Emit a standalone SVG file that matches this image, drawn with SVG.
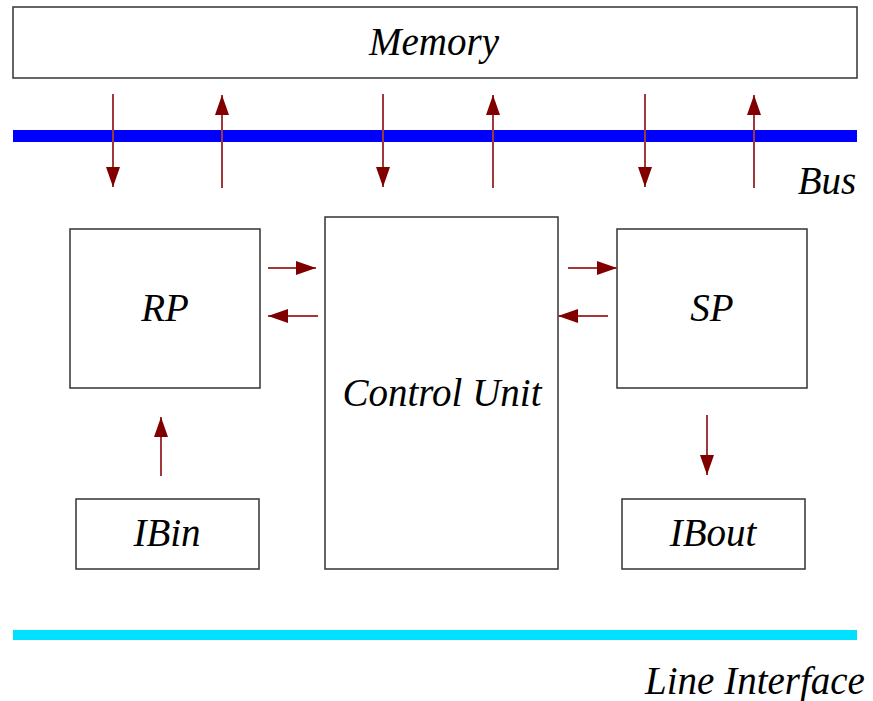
<svg xmlns="http://www.w3.org/2000/svg" width="873" height="701" viewBox="0 0 873 701">
<style>
.box{fill:#fff;stroke:#333;stroke-width:1.5}
.t{font-family:"Liberation Serif","Times New Roman",serif;font-style:italic;font-size:39px;fill:#000;text-anchor:middle}
.a{stroke:#a0383c;stroke-width:2;fill:none;marker-end:url(#ah)}
</style>
<defs>
<marker id="ah" markerUnits="userSpaceOnUse" markerWidth="22" markerHeight="16" refX="20" refY="7" orient="auto">
<path d="M0,0 L20,7 L0,14 Z" fill="#800000"/>
</marker>
</defs>
<rect width="873" height="701" fill="#fff"/>
<g id="memory"><rect class="box" x="13" y="7" width="844" height="71"/><text class="t" x="434" y="55">Memory</text></g>
<g id="bus"><rect x="13" y="130" width="844" height="12" fill="#0000ff"/><text class="t" x="827" y="194">Bus</text></g>
<g id="rp"><rect class="box" x="70" y="229" width="190" height="159"/><text class="t" x="165" y="321">RP</text></g>
<g id="cu"><rect class="box" x="325" y="217" width="233" height="352"/><text class="t" x="442" y="406">Control Unit</text></g>
<g id="sp"><rect class="box" x="617" y="229" width="190" height="159"/><text class="t" x="712" y="321">SP</text></g>
<g id="ibin"><rect class="box" x="76" y="499" width="183" height="70"/><text class="t" x="167" y="546">IBin</text></g>
<g id="ibout"><rect class="box" x="622" y="499" width="183" height="70"/><text class="t" x="713" y="546">IBout</text></g>
<g id="line"><rect x="13" y="630" width="844" height="10" fill="#00e0ff"/><text class="t" x="755" y="694">Line Interface</text></g>
<g id="connectors">
<line class="a" x1="113" y1="94" x2="113" y2="187"/>
<line class="a" x1="222" y1="188" x2="222" y2="95"/>
<line class="a" x1="383" y1="94" x2="383" y2="187"/>
<line class="a" x1="493" y1="188" x2="493" y2="95"/>
<line class="a" x1="645" y1="94" x2="645" y2="187"/>
<line class="a" x1="754" y1="188" x2="754" y2="95"/>
<line class="a" x1="268" y1="268" x2="316" y2="268"/>
<line class="a" x1="318" y1="316" x2="268" y2="316"/>
<line class="a" x1="568" y1="268" x2="617" y2="268"/>
<line class="a" x1="608" y1="316" x2="558" y2="316"/>
<line class="a" x1="707" y1="415" x2="707" y2="475"/>
<line class="a" x1="161" y1="476" x2="161" y2="417"/>
</g>
</svg>
